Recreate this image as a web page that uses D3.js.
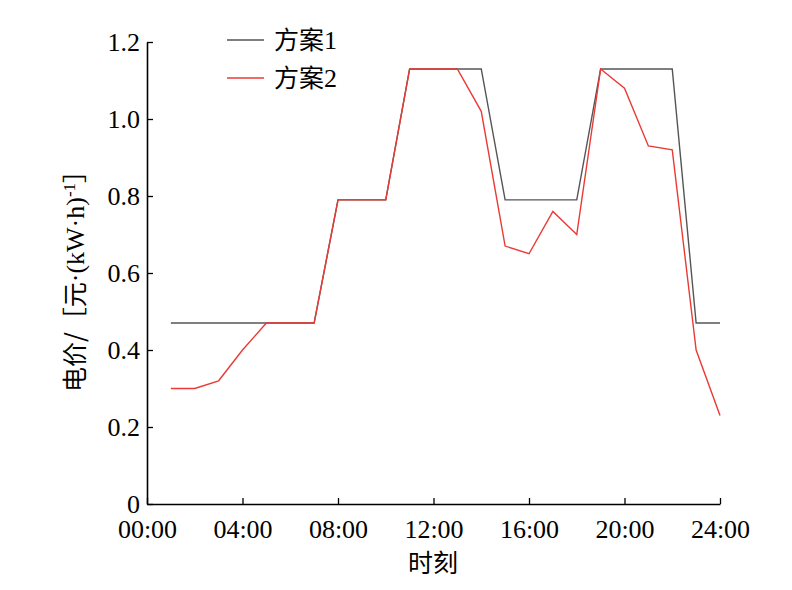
<!DOCTYPE html>
<html>
<head>
  <meta charset="utf-8">
  <script type="text/javascript" src="https://d3js.org/d3.v7.min.js"></script>
  <style type="text/css">
    body { margin: 0px; background: #fff; }
    text { font-family: "Liberation Serif", "Times New Roman", serif; }
    .cjk { font-family: "Noto Sans CJK SC", sans-serif; }
  </style>
</head>
<body>
  <svg width="792" height="590"></svg>
  <script type="text/javascript">
    var hours = [1,2,3,4,5,6,7,8,9,10,11,12,13,14,15,16,17,18,19,20,21,22,23,24];
    var plan1 = [0.47,0.47,0.47,0.47,0.47,0.47,0.47,0.79,0.79,0.79,1.13,1.13,1.13,1.13,0.79,0.79,0.79,0.79,1.13,1.13,1.13,1.13,0.47,0.47];
    var plan2 = [0.30,0.30,0.32,0.40,0.47,0.47,0.47,0.79,0.79,0.79,1.13,1.13,1.13,1.02,0.67,0.65,0.76,0.70,1.13,1.08,0.93,0.92,0.40,0.23];
    var xTicks = [0,4,8,12,16,20,24];
    var xTickLabels = ["00:00","04:00","08:00","12:00","16:00","20:00","24:00"];
    var yTicks = [0,0.2,0.4,0.6,0.8,1.0,1.2];
    var seriesNames = ["方案1","方案2"];
    var seriesColors = ["#555555","#ea3a35"];

    var svg = d3.select("svg");
    var plotLeft = 147, plotRight = 720, plotTop = 42, plotBottom = 504;

    var x = d3.scaleLinear().domain([0,24]).range([plotLeft,plotRight]);
    var y = d3.scaleLinear().domain([0,1.2]).range([plotBottom,plotTop]);

    // axes, ticks pointing inward
    var xAxis = d3.axisBottom(x).tickValues(xTicks)
      .tickFormat(function(d,i){ return xTickLabels[i]; })
      .tickSizeInner(-6).tickSizeOuter(0).tickPadding(16);
    var yAxis = d3.axisLeft(y).tickValues(yTicks)
      .tickFormat(function(d){ return d === 0 ? "0" : d3.format(".1f")(d); })
      .tickSizeInner(-6).tickSizeOuter(0).tickPadding(7);

    var gx = svg.append("g").attr("transform", `translate(0,${plotBottom})`).call(xAxis);
    var gy = svg.append("g").attr("transform", `translate(${plotLeft},0)`).call(yAxis);
    [gx, gy].forEach(function(g){
      g.selectAll("path").attr("stroke","#000").attr("stroke-width",1.6);
      g.selectAll("line").attr("stroke","#000").attr("stroke-width",1.3);
      g.selectAll("text").attr("fill","#000").style("font-family","Liberation Serif, serif").style("font-size","26px");
    });

    var line = d3.line().x(function(d){ return x(d[0]); }).y(function(d){ return y(d[1]); });
    [plan1, plan2].forEach(function(vals, k){
      svg.append("path")
        .datum(hours.map(function(h,i){ return [h, vals[i]]; }))
        .attr("fill","none")
        .attr("stroke", seriesColors[k])
        .attr("stroke-width", 1.4)
        .attr("d", line);
    });

    // legend
    seriesNames.forEach(function(name, k){
      var ly = 40 + k * 38;
      svg.append("line").attr("x1",227).attr("x2",264).attr("y1",ly).attr("y2",ly)
        .attr("stroke", seriesColors[k]).attr("stroke-width",1.4);
      var t = svg.append("text").attr("x",274).attr("y",ly+9).style("font-size","25px");
      t.append("tspan").attr("class","cjk").text(name.slice(0,2));
      t.append("tspan").style("font-size","26px").text(name.slice(2));
    });

    // x title
    svg.append("text").attr("class","cjk").attr("x",433).attr("y",572)
      .attr("text-anchor","middle").style("font-size","25px").text("时刻");

    // y title
    var yt = svg.append("text").attr("transform","translate(84,275) rotate(-90)")
      .attr("text-anchor","middle").style("font-size","25px");
    yt.append("tspan").attr("class","cjk").text("电价/［元");
    yt.append("tspan").style("font-size","26px").text("·(kW·h)");
    yt.append("tspan").attr("dy",-9).style("font-size","17px").text("-1");
    yt.append("tspan").attr("dy",9).attr("class","cjk").text("］");
  </script>
</body>
</html>
